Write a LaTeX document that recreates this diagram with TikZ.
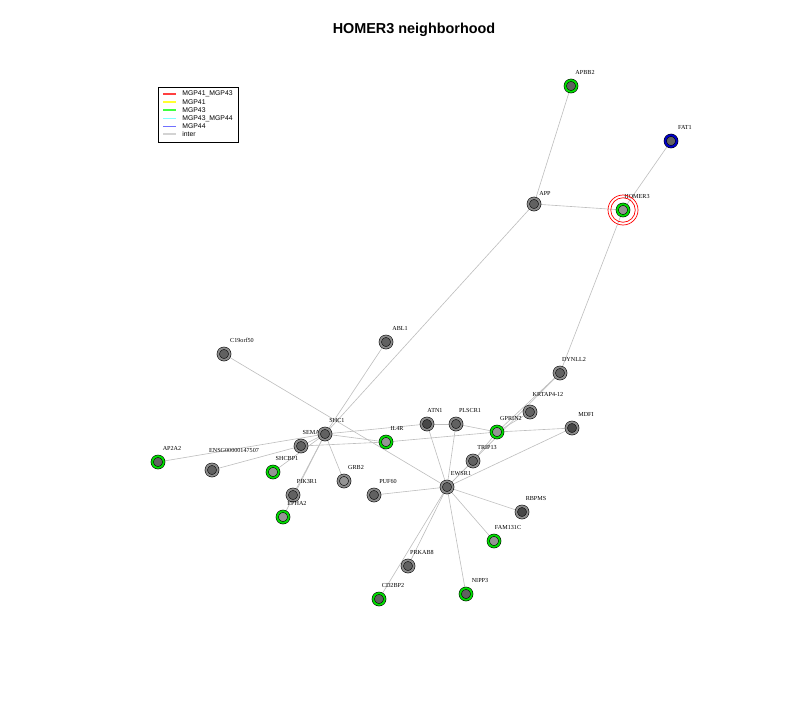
\documentclass[tikz,border=0pt]{standalone}
\usepackage{fontspec}
\setmainfont{Liberation Serif}
\newfontfamily\headfont{Liberation Sans}
\usepackage{tikz}
\usetikzlibrary{backgrounds, fit}
\definecolor{ringgray}{HTML}{8C8C8C}
\definecolor{ringgreen}{HTML}{00DC00}
\definecolor{ringblue}{HTML}{0000C8}
\definecolor{edgegray}{HTML}{BEBEBE}
\definecolor{keyred}{HTML}{FF4040}
\definecolor{keyyellow}{HTML}{FFFF30}
\definecolor{keygreen}{HTML}{40FF40}
\definecolor{keycyan}{HTML}{80FFFF}
\definecolor{keyblue}{HTML}{7070FF}
\definecolor{keygray}{HTML}{D3D3D3}

\begin{document}
\begin{tikzpicture}[
        x=0.02cm, y=-0.02cm,
        gene/.style={circle, draw=black, line width=0.3pt, double=#1,
                     double distance=0.04cm, minimum size=0.23cm, inner sep=0pt},
        nohit/.style={gene=ringgray},
        hit/.style={gene=ringgreen},
        bluehit/.style={gene=ringblue},
        fdark/.style={fill=black!72},
        fmid/.style={fill=black!62},
        flight/.style={fill=black!42},
        lbl/.style={font=\fontsize{3.5}{4}\selectfont, inner sep=0pt,
                    anchor=center, xshift=0.28cm, yshift=0.15cm},
        link/.style={draw=edgegray, line width=0.35pt},
        key/.style={font=\headfont\fontsize{3.9}{4.5}\selectfont, anchor=west, inner sep=0pt},
    ]
        \useasboundingbox (0,0) rectangle (800,700);

        \node[font=\headfont\bfseries\fontsize{8.2}{10}\selectfont] (title) at (414,30) {HOMER3 neighborhood};

        % legend
        \node[draw, line width=0.4pt, inner sep=0pt, fit={(158,87) (238,142)}] (legend) {};
        \foreach \c/\t/\y [count=\i] in {keyred/MGP41\_MGP43/94, keyyellow/MGP41/102,
                keygreen/MGP43/110, keycyan/MGP43\_MGP44/118.5, keyblue/MGP44/126.5, keygray/inter/134} {
            \node[key] (key\i) at (182,\y) {\t};
            \draw[\c, line width=0.6pt] ([xshift=-0.38cm]key\i.west) -- ++(0.25cm,0);
        }

        % genes
        \node[hit, fmid]      (apbb2)   at (571,86)  [label={[lbl]90:APBB2}] {};
        \node[bluehit, fmid]  (fat1)    at (671,141) [label={[lbl]90:FAT1}] {};
        \node[nohit, fmid]    (app)     at (534,204) [label={[lbl, xshift=-0.06cm, yshift=-0.06cm]90:APP}] {};
        \node[hit, flight]    (homer3)  at (623,210) [label={[lbl]90:HOMER3}] {};
        \node[nohit, fmid]    (c19)     at (224,354) [label={[lbl, xshift=0.08cm]90:C19orf50}] {};
        \node[nohit, fmid]    (abl1)    at (386,342) [label={[lbl]90:ABL1}] {};
        \node[nohit, fmid]    (dynll2)  at (560,373) [label={[lbl]90:DYNLL2}] {};
        \node[nohit, fmid]    (krtap)   at (530,412) [label={[lbl, xshift=0.08cm, yshift=0.08cm]90:KRTAP4-12}] {};
        \node[nohit, fdark]   (mdfi)    at (572,428) [label={[lbl]90:MDFI}] {};
        \node[nohit, fmid]    (sema)    at (301,446) [label={[lbl]90:SEMA4D}] {};
        \node[nohit, fmid]    (shc1)    at (325,434) [label={[lbl, xshift=-0.04cm]90:SHC1}] {};
        \node[hit, flight]    (il4r)    at (386,442) [label={[lbl, xshift=-0.06cm]90:IL4R}] {};
        \node[nohit, fdark]   (atn1)    at (427,424) [label={[lbl, xshift=-0.12cm]90:ATN1}] {};
        \node[nohit, fmid]    (plscr1)  at (456,424) [label={[lbl]90:PLSCR1}] {};
        \node[hit, flight]    (gprin2)  at (497,432) [label={[lbl]90:GPRIN2}] {};
        \node[nohit, fmid]    (trip13)  at (473,461) [label={[lbl]90:TRIP13}] {};
        \node[hit, fmid]      (ap2a2)   at (158,462) [label={[lbl]90:AP2A2}] {};
        \node[nohit, fmid]    (ensg)    at (212,470) [label={[lbl, xshift=0.16cm, yshift=0.12cm]90:ENSG00000147507}] {};
        \node[hit, flight]    (shcbp1)  at (273,472) [label={[lbl]90:SHCBP1}] {};
        \node[nohit, flight]  (grb2)    at (344,481) [label={[lbl, xshift=-0.04cm]90:GRB2}] {};
        \node[nohit, fmid]    (pik3r1)  at (293,495) [label={[lbl]90:PIK3R1}] {};
        \node[hit, flight]    (epha2)   at (283,517) [label={[lbl]90:EPHA2}] {};
        \node[nohit, fmid]    (puf60)   at (374,495) [label={[lbl]90:PUF60}] {};
        \node[nohit, fmid]    (ewsr1)   at (447,487) [label={[lbl]90:EWSR1}] {};
        \node[nohit, fdark]   (rbpms)   at (522,512) [label={[lbl]90:RBPMS}] {};
        \node[hit, flight]    (fam131c) at (494,541) [label={[lbl]90:FAM131C}] {};
        \node[nohit, fmid]    (prkab)   at (408,566) [label={[lbl]90:PRKAB8}] {};
        \node[hit, fmid]      (cd2bp2)  at (379,599) [label={[lbl]90:CD2BP2}] {};
        \node[hit, fmid]      (nipp3)   at (466,594) [label={[lbl]90:NIPP3}] {};

        % seed rings
        \draw[red, line width=0.4pt] (homer3) circle[radius=0.245cm];
        \draw[red, line width=0.4pt] (homer3) circle[radius=0.3cm];

        % interactions
        \begin{scope}[on background layer]
            \path[link] (apbb2) -- (app);
            \path[link] (app) -- (homer3);
            \path[link] (fat1) -- (homer3);
            \path[link] (homer3) -- (dynll2);
            \path[link] (app) -- (shc1);
            \path[link] (abl1) -- (shc1);
            \path[link] (c19) -- (ewsr1);
            \path[link] (dynll2) -- (gprin2);
            \path[link] (dynll2) -- (ewsr1);
            \path[link] (krtap) -- (gprin2);
            \path[link] (gprin2) -- (trip13);
            \path[link] (trip13) -- (ewsr1);
            \path[link] (mdfi) -- (gprin2);
            \path[link] (mdfi) -- (ewsr1);
            \path[link] (il4r) -- (gprin2);
            \path[link] (shc1) -- (atn1);
            \path[link] (shc1) -- (il4r);
            \path[link] (sema) -- (il4r);
            \path[link] (sema) -- (shc1);
            \path[link] (atn1) -- (plscr1);
            \path[link] (plscr1) -- (gprin2);
            \path[link] (atn1) -- (ewsr1);
            \path[link] (plscr1) -- (ewsr1);
            \path[link] (ap2a2) -- (shc1);
            \path[link] (ensg) -- (sema);
            \path[link] (shcbp1) -- (shc1);
            \path[link] (grb2) -- (shc1);
            \path[link] (pik3r1) -- (shc1);
            \path[link] (epha2) -- (shc1);
            \path[link] (puf60) -- (ewsr1);
            \path[link] (rbpms) -- (ewsr1);
            \path[link] (fam131c) -- (ewsr1);
            \path[link] (nipp3) -- (ewsr1);
            \path[link] (prkab) -- (ewsr1);
            \path[link] (cd2bp2) -- (ewsr1);
        \end{scope}
    \end{tikzpicture}
\end{document}
